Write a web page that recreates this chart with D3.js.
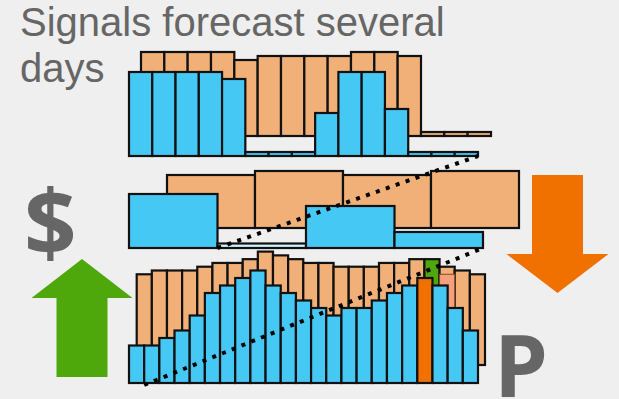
<!DOCTYPE html>
<html>
<head>
<meta charset="utf-8">
<script src="https://cdn.jsdelivr.net/npm/d3@7"></script>
<style>
  body { margin: 0; background: #efefef; }
  svg { display: block; }
</style>
</head>
<body>
<div id="chart"></div>
<script>
// bar heights (signal = blue, forecast = orange)
const topDays = d3.range(15);
const topSignal = [84, 84, 84, 84, 77, 4, 4, 4, 43, 84, 84, 47, 4, 4, 4];
const topForecast = [84, 84, 84, 84, 76, 80, 80, 80, 80, 84, 84, 80, 4, 4, 4];

const midDays = d3.range(4);
const midSignal = [54, 4.5, 42, 16];
const midForecast = [53, 57, 53, 57];

const lowDays = d3.range(23);
const lowSignal = [5, 5, 6, 7, 9, 12, 13, 14, 15, 13, 12, 11, 10, 9, 10, 10, 11, 12, 13, 14, 13, 10, 7];
const lowForecast = [24, 25, 25, 25, 26, 27, 27, 28, 30, 29, 28, 27, 27, 26, 26, 26, 27, 27, 28, 28, 26, 25, 24];

const titleLines = ["Signals forecast several", "days"];

const width = 619;
const height = 399;

const blue = "#46c8f5";
const orange = "#f0b078";

const svg = d3
  .select("#chart")
  .append("svg")
  .attr("width", width)
  .attr("height", height);

svg.append("rect").attr("width", width).attr("height", height).attr("fill", "#efefef");

function drawBars(values, days, x, y, fill) {
  svg
    .append("g")
    .selectAll("rect")
    .data(values)
    .join("rect")
    .attr("x", (d, i) => x(days[i]))
    .attr("y", (d) => y(d))
    .attr("width", x.bandwidth())
    .attr("height", (d) => y(0) - y(d))
    .attr("fill", fill)
    .attr("stroke", "#111")
    .attr("stroke-width", 2.2);
}

// top panel
const topSigX = d3.scaleBand().domain(topDays).range([129, 478]);
const topSigY = d3.scaleLinear().domain([0, 100]).range([156, 56]);
const topFcX = d3.scaleBand().domain(topDays).range([141, 491]);
const topFcY = d3.scaleLinear().domain([0, 100]).range([136, 36]);

drawBars(topForecast, topDays, topFcX, topFcY, orange);
drawBars(topSignal, topDays, topSigX, topSigY, blue);

// middle panel
const midSigX = d3.scaleBand().domain(midDays).range([129, 483]);
const midSigY = d3.scaleLinear().domain([0, 100]).range([248, 148]);
const midFcX = d3.scaleBand().domain(midDays).range([167, 519]);
const midFcY = d3.scaleLinear().domain([0, 100]).range([228, 128]);

drawBars(midForecast, midDays, midFcX, midFcY, orange);
drawBars(midSignal, midDays, midSigX, midSigY, (d, i) => (i === 1 ? "#cdf6fb" : blue));

// bottom panel
const lowSigX = d3.scaleBand().domain(lowDays).range([129, 478]);
const lowSigY = d3.scaleLinear().domain([0, 16]).range([383, 263]);
const lowFcX = d3.scaleBand().domain(lowDays).range([136.7, 485]);
const lowFcY = d3.scaleLinear().domain([0, 30]).range([365, 251.6]);

drawBars(lowForecast, lowDays, lowFcX, lowFcY, (d, i) => (i === 19 ? "#4ea80c" : orange));

// lighter overlay inside forecast day 20
svg
  .append("rect")
  .attr("x", lowFcX(20))
  .attr("y", lowFcY(24))
  .attr("width", lowFcX.bandwidth())
  .attr("height", lowFcY(0) - lowFcY(24))
  .attr("fill", "#f4a07c")
  .attr("stroke", "#8a4a20")
  .attr("stroke-width", 1);

drawBars(lowSignal, lowDays, lowSigX, lowSigY, (d, i) => (i === 19 ? "#f07000" : blue));

// dotted connectors between panels
const dotted = d3.line();
svg
  .append("path")
  .attr("d", dotted([
    [midSigX(1), midSigY(0)],
    [topSigX(14) + topSigX.bandwidth(), topSigY(0)]
  ]))
  .attr("fill", "none")
  .attr("stroke", "#000")
  .attr("stroke-width", 4)
  .attr("stroke-dasharray", "4,6.5");

svg
  .append("path")
  .attr("d", dotted([
    [lowSigX(1), lowSigY(0) + 2],
    [midSigX(3) + midSigX.bandwidth(), midSigY(0)]
  ]))
  .attr("fill", "none")
  .attr("stroke", "#000")
  .attr("stroke-width", 4)
  .attr("stroke-dasharray", "4,6.5");

// arrows
function arrow(cx, shaftW, headW, tailY, neckY, tipY, color) {
  const p = d3.path();
  p.moveTo(cx - shaftW / 2, tailY);
  p.lineTo(cx - shaftW / 2, neckY);
  p.lineTo(cx - headW / 2, neckY);
  p.lineTo(cx, tipY);
  p.lineTo(cx + headW / 2, neckY);
  p.lineTo(cx + shaftW / 2, neckY);
  p.lineTo(cx + shaftW / 2, tailY);
  p.closePath();
  svg.append("path").attr("d", p.toString()).attr("fill", color);
}

arrow(82, 51, 101, 377, 298, 259, "#4ea80c");
arrow(557.5, 51, 102, 175, 254, 293, "#f07000");

// text
svg
  .append("g")
  .selectAll("text")
  .data(titleLines)
  .join("text")
  .attr("x", 20)
  .attr("y", (d, i) => 36 + i * 46)
  .attr("font-family", "Liberation Sans, Arial, sans-serif")
  .attr("font-size", 40)
  .attr("fill", "#666")
  .text((d) => d);

svg
  .append("text")
  .attr("x", 24)
  .attr("y", 256)
  .attr("font-family", "Open Sans, sans-serif")
  .attr("font-weight", "bold")
  .attr("font-size", 92)
  .attr("fill", "#666")
  .text("$");

svg
  .append("text")
  .attr("x", 494)
  .attr("y", 397)
  .attr("font-family", "Open Sans, sans-serif")
  .attr("font-weight", "bold")
  .attr("font-size", 86)
  .attr("fill", "#666")
  .text("P");
</script>
</body>
</html>
